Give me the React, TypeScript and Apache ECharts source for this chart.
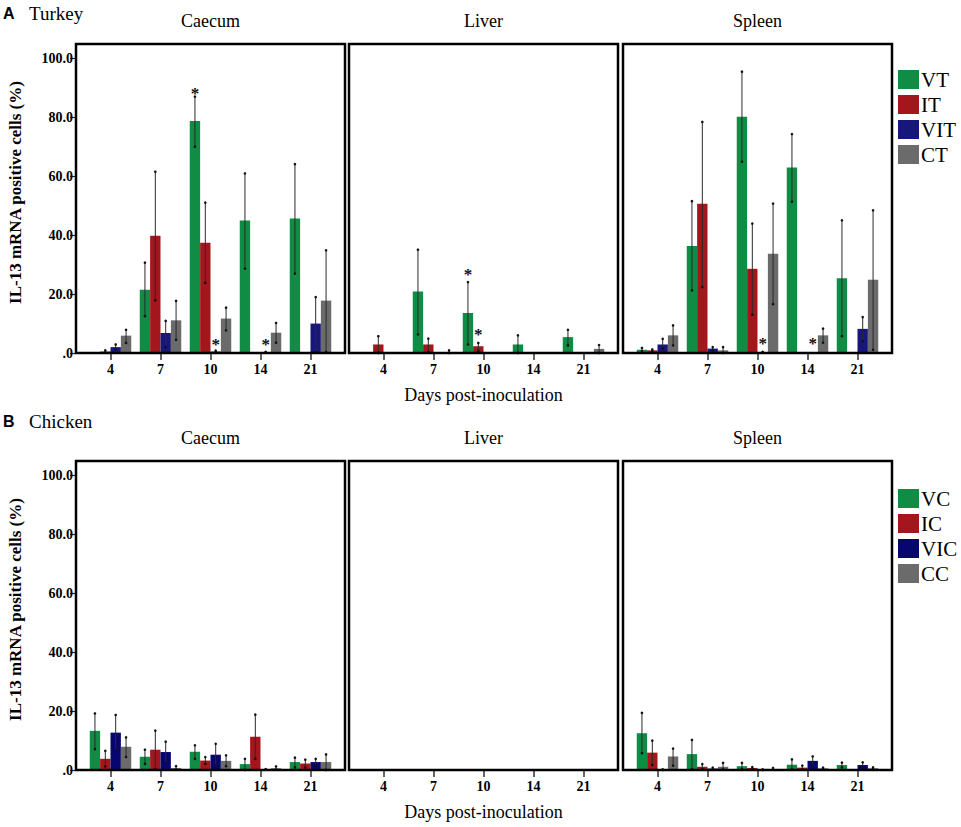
import React, { useEffect, useRef } from 'react';
import * as echarts from 'echarts';

const days = ['4', '7', '10', '14', '21'];
const yTicks = [0, 20, 40, 60, 80, 100];
const turkeyNames = ['VT', 'IT', 'VIT', 'CT'];
const chickenNames = ['VC', 'IC', 'VIC', 'CC'];
const tissues = ['Caecum', 'Liver', 'Spleen'];
const rowLabels = [['A', 'Turkey'], ['B', 'Chicken']];
const yTitle = 'IL-13 mRNA positive cells (%)';
const xTitle = 'Days post-inoculation';

// means per series (VT/VC, IT/IC, VIT/VIC, CT/CC) over days
const turkeyCaecumMean = [
  [0, 21.5, 78.8, 45.0, 45.7],
  [0.5, 39.8, 37.5, 0, 0],
  [2.0, 6.8, 0.5, 0.3, 10.0],
  [5.9, 11.1, 11.7, 6.9, 17.8],
];
const turkeyCaecumLow = [
  [0, 12.5, 70.1, 28.7, 27.0],
  [0.2, 17.9, 23.8, 0, 0],
  [1.2, 2.0, 0.3, 0.2, 0.3],
  [3.4, 4.5, 7.7, 3.5, 0.3],
];
const turkeyCaecumHigh = [
  [0, 30.7, 87.1, 61.0, 64.2],
  [0.9, 61.6, 51.1, 0, 0],
  [2.9, 10.9, 0.8, 0.4, 19.0],
  [7.9, 17.7, 15.4, 10.2, 34.9],
];
const turkeyLiverMean = [
  [0, 20.9, 13.6, 2.9, 5.4],
  [2.9, 2.9, 2.3, 0, 0],
  [0.1, 0, 0, 0, 0],
  [0, 0.3, 0, 0, 1.4],
];
const turkeyLiverLow = [
  [0, 6.3, 2.9, 0, 2.6],
  [0, 0.3, 0.7, 0, 0],
  [0, 0, 0, 0, 0],
  [0, 0, 0, 0, 0],
];
const turkeyLiverHigh = [
  [0, 35.1, 24.1, 6.0, 7.9],
  [5.7, 4.9, 3.4, 0, 0],
  [0, 0, 0, 0, 0],
  [0, 0.9, 0, 0, 2.7],
];
const turkeySpleenMean = [
  [1.1, 36.4, 80.3, 63.0, 25.4],
  [0.9, 50.7, 28.6, 0, 0],
  [2.9, 1.5, 0.3, 0.1, 8.2],
  [6.0, 0.9, 33.7, 6.0, 24.9],
];
const turkeySpleenLow = [
  [0.6, 21.3, 65.0, 51.4, 5.7],
  [0.6, 22.4, 13.0, 0, 0],
  [1.5, 0.9, 0.2, 0.1, 4.0],
  [2.6, 0, 16.6, 3.5, 1.1],
];
const turkeySpleenHigh = [
  [1.7, 51.6, 95.6, 74.4, 45.1],
  [1.2, 78.5, 44.0, 0, 0],
  [4.8, 2.0, 0.4, 0.1, 12.2],
  [9.4, 2.0, 50.8, 8.3, 48.5],
];
const chickenCaecumMean = [
  [13.3, 4.5, 6.2, 2.0, 2.7],
  [3.8, 6.9, 3.2, 11.3, 2.2],
  [12.7, 6.1, 5.2, 0.2, 2.7],
  [7.9, 0.7, 3.1, 0.6, 2.7],
];
const chickenCaecumLow = [
  [7.1, 2.1, 3.8, 0, 0.9],
  [1.2, 0.3, 2.1, 3.8, 0.9],
  [6.7, 2.5, 1.5, 0.1, 1.5],
  [4.4, 0.1, 1.3, 0.1, 0],
];
const chickenCaecumHigh = [
  [19.2, 6.9, 8.4, 3.8, 4.2],
  [6.5, 13.4, 4.4, 18.8, 3.5],
  [18.7, 9.6, 8.9, 0.3, 3.8],
  [11.1, 1.3, 5.0, 1.2, 5.3],
];
const chickenLiverMean = [
  [0, 0, 0, 0, 0],
  [0, 0, 0.3, 0, 0],
  [0, 0, 0, 0, 0.3],
  [0, 0, 0, 0, 0],
];
const chickenLiverLow = [
  [0, 0, 0, 0, 0],
  [0, 0, 0, 0, 0],
  [0, 0, 0, 0, 0],
  [0, 0, 0, 0, 0],
];
const chickenLiverHigh = [
  [0, 0, 0, 0, 0],
  [0, 0, 0, 0, 0],
  [0, 0, 0, 0, 0],
  [0, 0, 0, 0, 0],
];
const chickenSpleenMean = [
  [12.5, 5.4, 1.3, 1.8, 1.7],
  [5.9, 1.1, 0.7, 0.8, 0],
  [0.1, 0.5, 0.1, 3.1, 1.7],
  [4.6, 1.1, 0.3, 0.6, 0.6],
];
const chickenSpleenLow = [
  [5.7, 0.3, 0.3, 0.2, 0.9],
  [1.7, 0.3, 0.3, 0.2, 0],
  [0, 0.2, 0, 1.6, 0.9],
  [1.5, 0.2, 0.1, 0.3, 0.3],
];
const chickenSpleenHigh = [
  [19.4, 10.2, 2.4, 3.6, 2.5],
  [10.0, 2.0, 1.0, 1.5, 0],
  [0.2, 0.8, 0.2, 4.6, 2.6],
  [7.3, 2.4, 0.7, 0.8, 0.9],
];
// significance stars: [day index, series index, height]
const turkeyCaecumStars = [[2, 0, 89.6], [2, 2, 4.2], [3, 2, 4.2]];
const turkeyLiverStars = [[2, 0, 28.1], [2, 1, 7.6]];
const turkeySpleenStars = [[2, 2, 4.5], [3, 2, 4.5]];
const noStars: number[][] = [];

const panels = [
  [turkeyCaecumMean, turkeyCaecumLow, turkeyCaecumHigh, turkeyCaecumStars],
  [turkeyLiverMean, turkeyLiverLow, turkeyLiverHigh, turkeyLiverStars],
  [turkeySpleenMean, turkeySpleenLow, turkeySpleenHigh, turkeySpleenStars],
  [chickenCaecumMean, chickenCaecumLow, chickenCaecumHigh, noStars],
  [chickenLiverMean, chickenLiverLow, chickenLiverHigh, noStars],
  [chickenSpleenMean, chickenSpleenLow, chickenSpleenHigh, noStars],
];

const SERIF = "'Liberation Serif', 'Times New Roman', serif";
const SANS = "'Liberation Sans', Arial, sans-serif";
const colorsTurkey = ['#108c45', '#a3161c', '#17177a', '#6b6b6b'];
const colorsChicken = ['#108c45', '#a3161c', '#06066e', '#6b6b6b'];

const boxLefts = [76, 349, 623];
const boxW = 269;
const boxH = 309;
const rowTops = [44, 461];
const GAP_RATIO = 0.83;

function buildOption() {
  const grid: any[] = [];
  const xAxis: any[] = [];
  const yAxis: any[] = [];
  const series: any[] = [];
  const graphic: any[] = [];

  for (let r = 0; r < 2; r++) {
    const names = r === 0 ? turkeyNames : chickenNames;
    const colors = r === 0 ? colorsTurkey : colorsChicken;
    for (let c = 0; c < 3; c++) {
      const g = r * 3 + c;
      const [mean, low, high, stars] = panels[g] as any;
      grid.push({ left: boxLefts[c] + 9.5, top: rowTops[r], width: 250, height: boxH });
      xAxis.push({
        type: 'category',
        gridIndex: g,
        data: days,
        axisLine: { show: false },
        axisTick: { show: true, alignWithLabel: true, length: 7, lineStyle: { color: '#333', width: 1.5 } },
        axisLabel: { fontFamily: SERIF, fontWeight: 'bold', fontSize: 14, color: '#000', margin: 9 },
        splitLine: { show: false },
      });
      yAxis.push({
        type: 'value',
        gridIndex: g,
        min: 0,
        max: 105,
        interval: 20,
        show: c === 0,
        offset: 9.5,
        axisLine: { show: false },
        axisTick: { show: true, length: 6, customValues: yTicks, lineStyle: { color: '#222', width: 1.2 } },
        axisLabel: {
          customValues: yTicks,
          fontFamily: SERIF,
          fontWeight: 'bold',
          fontSize: 14,
          color: '#000',
          margin: 3,
          formatter: (v: number) => (v % 20 !== 0 ? '' : v === 0 ? '.0' : v.toFixed(1)),
        },
        splitLine: { show: false },
      });
      for (let s = 0; s < 4; s++) {
        series.push({
          type: 'bar',
          name: names[s],
          xAxisIndex: g,
          yAxisIndex: g,
          data: mean[s],
          barGap: '0%',
          barCategoryGap: '17%',
          itemStyle: { color: colors[s] },
          silent: true,
        });
      }
      const errData: number[][] = [];
      for (let s = 0; s < 4; s++) {
        for (let d = 0; d < days.length; d++) {
          if (high[s][d] > low[s][d]) errData.push([d, s, low[s][d], high[s][d]]);
        }
      }
      series.push({
        type: 'custom',
        xAxisIndex: g,
        yAxisIndex: g,
        data: errData,
        silent: true,
        z: 5,
        renderItem: (params: any, api: any) => {
          const d = api.value(0);
          const s = api.value(1);
          const lo = api.coord([d, api.value(2)]);
          const hi = api.coord([d, api.value(3)]);
          const band = api.size([1, 0])[0];
          const bw = (band * GAP_RATIO) / 4;
          const x = lo[0] + (s - 1.5) * bw;
          return {
            type: 'group',
            children: [
              { type: 'line', shape: { x1: x, y1: lo[1], x2: x, y2: hi[1] }, style: { stroke: '#2a2a2a', lineWidth: 1 } },
              { type: 'circle', shape: { cx: x, cy: hi[1], r: 1.3 }, style: { fill: '#111' } },
              { type: 'circle', shape: { cx: x, cy: lo[1], r: 1.3 }, style: { fill: '#111' } },
            ],
          };
        },
      });
      if (stars.length) {
        series.push({
          type: 'custom',
          xAxisIndex: g,
          yAxisIndex: g,
          data: stars,
          silent: true,
          z: 6,
          renderItem: (params: any, api: any) => {
            const d = api.value(0);
            const s = api.value(1);
            const p = api.coord([d, api.value(2)]);
            const band = api.size([1, 0])[0];
            const bw = (band * GAP_RATIO) / 4;
            const x = p[0] + (s - 1.5) * bw;
            return {
              type: 'text',
              x,
              y: p[1] + 4,
              style: { text: '*', fontSize: 17, fontFamily: SERIF, fontWeight: 'bold', fill: '#111', align: 'center', verticalAlign: 'middle' },
            };
          },
        });
      }
      // frame
      graphic.push({
        type: 'rect',
        shape: { x: boxLefts[c], y: rowTops[r], width: boxW, height: boxH },
        style: { fill: 'none', stroke: '#000', lineWidth: 2.5 },
        z: 100,
      });
      // tissue title
      graphic.push({
        type: 'text',
        x: boxLefts[c] + boxW / 2,
        y: rowTops[r] - 23,
        style: { text: tissues[c], fontFamily: SERIF, fontSize: 18, fill: '#000', align: 'center', verticalAlign: 'middle' },
      });
    }
    // row label
    graphic.push({
      type: 'text',
      x: 3,
      y: r === 0 ? 13 : 421,
      style: { text: rowLabels[r][0], fontFamily: SANS, fontWeight: 'bold', fontSize: 16, fill: '#000', verticalAlign: 'middle' },
    });
    graphic.push({
      type: 'text',
      x: 29,
      y: r === 0 ? 13 : 421,
      style: { text: rowLabels[r][1], fontFamily: SERIF, fontSize: 19, fill: '#000', verticalAlign: 'middle' },
    });
    // y title
    graphic.push({
      type: 'text',
      x: 15,
      y: rowTops[r] + boxH / 2 - 6,
      rotation: Math.PI / 2,
      style: { text: yTitle, fontFamily: SERIF, fontWeight: 'bold', fontSize: 17, fill: '#000', align: 'center', verticalAlign: 'middle' },
    });
    // x title
    graphic.push({
      type: 'text',
      x: boxLefts[1] + boxW / 2,
      y: rowTops[r] + boxH + 42,
      style: { text: xTitle, fontFamily: SERIF, fontSize: 18, fill: '#000', align: 'center', verticalAlign: 'middle' },
    });
  }

  const legendBase = {
    orient: 'vertical',
    left: 898,
    itemWidth: 21,
    itemHeight: 19,
    itemGap: 4,
    icon: 'rect',
    selectedMode: false,
    padding: 0,
    textStyle: { fontFamily: SERIF, fontSize: 21, color: '#000', padding: [0, 0, 0, -3] },
  };

  return {
    animation: false,
    backgroundColor: '#fff',
    grid,
    xAxis,
    yAxis,
    series,
    graphic,
    legend: [
      { ...legendBase, top: 69, data: turkeyNames },
      { ...legendBase, top: 488, data: chickenNames },
    ],
  };
}

export default function App() {
  const ref = useRef<HTMLDivElement>(null);
  useEffect(() => {
    if (!ref.current) return;
    const chart = echarts.init(ref.current, undefined, { renderer: 'svg' });
    chart.setOption(buildOption() as any);
    return () => chart.dispose();
  }, []);
  return <div ref={ref} style={{ position: 'fixed', left: 0, top: 0, width: 961, height: 827, background: '#fff' }} />;
}
